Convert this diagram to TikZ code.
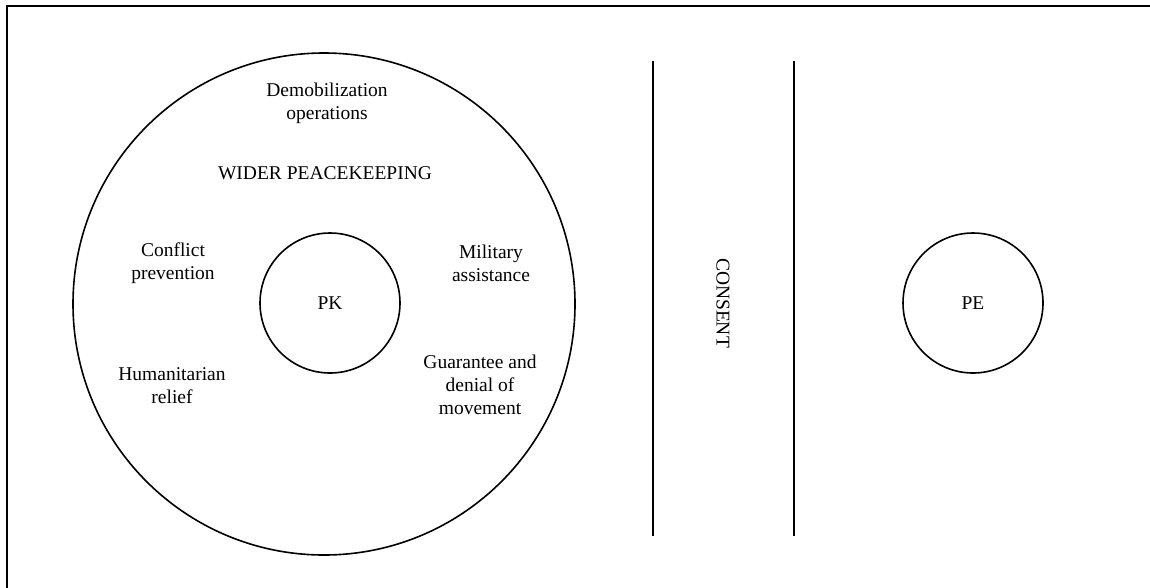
\documentclass[tikz,border=0pt]{standalone}
\usepackage{fontspec}
\setmainfont{Liberation Serif}
\begin{document}
\begin{tikzpicture}[x=1pt,y=-1pt,
  ring/.style={draw,circle,line width=1.6pt,inner sep=0pt},
  lbl/.style={font=\fontsize{19.5}{23}\selectfont,align=center,inner sep=0pt},
  rule/.style={line width=1.6pt}]
\useasboundingbox (0,0) rectangle (1150,587);
% frame (only left and top edges visible)
\draw[line width=2pt] (7,600) -- (7,6) -- (1160,6);
% circles
\node[ring,minimum size=502pt] (wide) at (324,304) {};
\node[ring,minimum size=140pt] (pk) at (330,303) {};
\node[lbl] at (pk) {PK};
\node[ring,minimum size=140pt] (pe) at (973,303) {};
\node[lbl] at (pe) {PE};
% labels
\node[lbl] (demob) at (327,103.5) {Demobilization\\operations};
\node[lbl] (wpk) at (325,173) {WIDER PEACEKEEPING};
\node[lbl] (conf) at (173,263.5) {Conflict\\prevention};
\node[lbl] (hum) at (172,385.5) {Humanitarian\\relief};
\node[lbl] (mil) at (491,263) {Military\\assistance};
\node[lbl] (guar) at (480,385) {Guarantee and\\denial of\\movement};
% consent band
\coordinate (l1t) at (653,61);
\coordinate (l1b) at (653,536);
\coordinate (l2t) at (794,61);
\coordinate (l2b) at (794,536);
\draw[rule] (l1t) -- (l1b);
\draw[rule] (l2t) -- (l2b);
\node[lbl,rotate=-90] (consent) at (723,303) {CONSENT};
\end{tikzpicture}
\end{document}
